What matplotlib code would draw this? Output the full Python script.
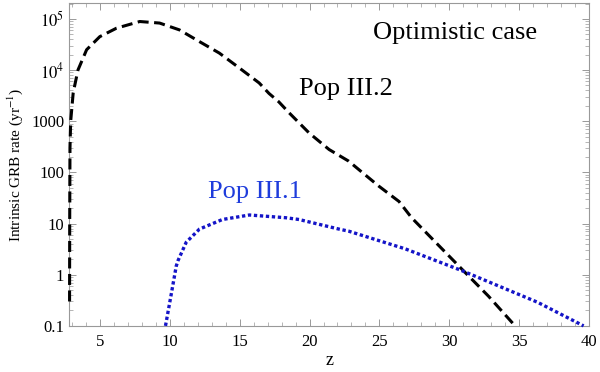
import numpy as np
import matplotlib
matplotlib.use("Agg")
import matplotlib.pyplot as plt
from matplotlib.ticker import FixedLocator, FixedFormatter, MultipleLocator, LogLocator, NullFormatter

plt.rcParams['font.family'] = ['Liberation Serif', 'DejaVu Serif']
plt.rcParams['mathtext.fontset'] = 'stix'

# Pop III.2 (black dashed)
z_pop2 = [2.84, 2.85, 2.87, 2.92, 3.1, 3.44, 4.06, 5.0, 6.2, 7.86, 9.28, 10.7, 12.13,
          13.55, 14.98, 16.4, 17.1, 17.8, 18.5, 19.97, 21.4, 22.8, 23.5, 24.95, 26.4,
          27.3, 28.5, 30.9, 32.8, 34.7]
r_pop2 = [0.3, 10, 300, 1000, 3600, 1.0e4, 2.5e4, 4.5e4, 6.6e4, 8.9e4, 8.3e4, 6.1e4, 3.6e4,
          2.15e4, 1.1e4, 5.6e3, 3.5e3, 2.4e3, 1.5e3, 590, 280, 166, 115, 54, 27,
          13, 6.0, 1.28, 0.38, 0.1]

# Pop III.1 (blue dotted)
z_pop1 = [9.7, 10.1, 10.47, 10.6, 11.18, 12.13, 13.77, 15.7, 18.3, 19.25, 22.1, 22.8,
          26.85, 30.9, 36.3, 39.6]
r_pop1 = [0.1, 0.4, 1.48, 1.9, 4.3, 7.8, 12, 14.7, 13, 12, 7.8, 7.1,
          3.2, 1.2, 0.29, 0.1]

y_ticks = [0.1, 1, 10, 100, 1000, 1e4, 1e5]
y_labels = ['0.1', '1', '10', '100', '1000', r'$10^4$', r'$10^5$']
x_ticks = [5, 10, 15, 20, 25, 30, 35, 40]

fig = plt.figure(figsize=(6.0, 3.72), dpi=100)
ax = fig.add_axes([0.115, 0.124, 0.867, 0.868])

ax.plot(z_pop2, r_pop2, color='black', lw=2.2, dashes=(3.6, 1.8), clip_on=False, zorder=3)
ax.plot(z_pop1, r_pop1, color='#1414c8', lw=2.4, dashes=(1.0, 0.8), clip_on=False, zorder=3)

ax.set_yscale('log')
ax.set_xlim(2.8, 40)
ax.set_ylim(0.1, 2.05e5)

ax.xaxis.set_major_locator(FixedLocator(x_ticks))
ax.xaxis.set_minor_locator(MultipleLocator(1))
ax.yaxis.set_major_locator(FixedLocator(y_ticks))
ax.yaxis.set_major_formatter(FixedFormatter(y_labels))
ax.yaxis.set_minor_locator(LogLocator(base=10, subs=np.arange(2, 10), numticks=20))
ax.yaxis.set_minor_formatter(NullFormatter())

ax.tick_params(which='both', direction='in', top=True, right=True, color='#999999',
               labelsize=12, labelcolor='black')
ax.tick_params(which='major', length=5, width=0.7)
ax.tick_params(which='minor', length=3, width=0.5)
ax.tick_params(axis='x', pad=6)
for sp in ax.spines.values():
    sp.set_edgecolor('#999999')
    sp.set_linewidth(0.8)

ax.set_xlabel('z', fontsize=13, labelpad=1)
ax.set_ylabel(r'Intrinsic GRB rate (yr$^{-1}$)', fontsize=11, labelpad=4)

ax.text(30.4, 5.4e4, 'Optimistic case', fontsize=19, ha='center', va='center')
ax.text(22.6, 4.2e3, 'Pop III.2', fontsize=19, ha='center', va='center')
ax.text(16.1, 41, 'Pop III.1', fontsize=19, ha='center', va='center', color='#1e3cdc')

fig.savefig('out.png', dpi=100)
